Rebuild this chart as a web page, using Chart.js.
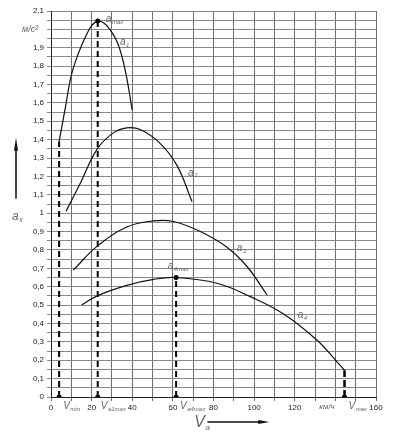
<!DOCTYPE html>
<html>
<head>
<meta charset="utf-8">
<script src="https://cdn.jsdelivr.net/npm/chart.js@4/dist/chart.umd.min.js"></script>
<style>
  html, body { margin: 0; padding: 0; background: #fff; }
  #wrap { width: 399px; height: 437px; }
</style>
</head>
<body>
<div id="wrap"><canvas id="chart" width="399" height="437"></canvas></div>
<script>
// speed, km/h and acceleration, m/s^2
const vI = [4, 7, 10, 13.5, 17, 20, 23, 26, 29, 33, 36.5, 40];
const aI = [1.39, 1.57, 1.75, 1.87, 1.96, 2.02, 2.045, 2.035, 2.0, 1.92, 1.78, 1.56];

const vII = [7.4, 14.3, 22.8, 30.7, 37.3, 43.9, 53.7, 62, 69.4];
const aII = [1.01, 1.16, 1.35, 1.437, 1.464, 1.455, 1.38, 1.26, 1.064];

const vIII = [11, 22.5, 37.3, 50.4, 60.3, 73.5, 86.6, 96.5, 106.4];
const aIII = [0.69, 0.818, 0.925, 0.958, 0.955, 0.90, 0.815, 0.71, 0.555];

const vIV = [15.1, 22.5, 37.3, 50.4, 61.6, 81.7, 98.1, 114.5, 131, 140.9, 144.5];
const aIV = [0.50, 0.549, 0.607, 0.64, 0.65, 0.619, 0.546, 0.452, 0.309, 0.19, 0.146];

// characteristic speeds (Vmin, Va1max, Va4max, Vmax) and heights of their dashed lines
const vMarks = [4, 23, 61.6, 144.5];
const aMarks = [1.39, 2.045, 0.65, 0.146];

const xTicks = [0, 20, 40, 60, 80, 100, 120, 160];

function pts(xs, ys) {
    return xs.map((x, i) => ({ x: x, y: ys[i] }));
}

function curve(xs, ys) {
    return {
        data: pts(xs, ys),
        borderColor: "#111",
        borderWidth: 1.2,
        pointRadius: 0,
        tension: 0.4,
        fill: false,
    };
}

var ds = [curve(vI, aI), curve(vII, aII), curve(vIII, aIII), curve(vIV, aIV)];

vMarks.forEach((v, i) => {
    ds.push({
        data: [{ x: v, y: 0 }, { x: v, y: aMarks[i] }],
        borderColor: "#000",
        borderWidth: i === 3 ? 2.5 : 2,
        borderDash: i === 3 ? [7, 3] : [6, 4],
        pointRadius: 0,
        tension: 0,
        fill: false,
    });
});

// dots on the axis and at the two marked maxima
ds.push({
    data: pts(vMarks, vMarks.map(() => 0)).concat([{ x: vMarks[1], y: aMarks[1] }, { x: vMarks[2], y: aMarks[2] }]),
    showLine: false,
    pointRadius: 2.5,
    pointBackgroundColor: "#000",
    pointBorderWidth: 0,
});

const hand = '"Liberation Sans Narrow", "Liberation Sans", sans-serif';
const ink = "#666";

function sub(ctx, main, s, x, y, size, ssize) {
    ctx.font = "italic " + size + "px " + hand;
    ctx.fillText(main, x, y);
    const w = ctx.measureText(main).width;
    ctx.font = "italic " + (ssize || Math.round(size * 0.6)) + "px " + hand;
    ctx.fillText(s, x + w + 0.5, y + size * 0.3);
}

const notes = {
    id: "notes",
    afterDraw(chart) {
        const ctx = chart.ctx;
        const xs = chart.scales.x;
        const ys = chart.scales.y;
        const a = chart.chartArea;
        const X = v => xs.getPixelForValue(v);
        const Y = v => ys.getPixelForValue(v);

        ctx.save();
        ctx.fillStyle = ink;
        ctx.textBaseline = "middle";
        ctx.textAlign = "left";

        sub(ctx, "a", "max", X(27), Y(2.055), 10, 6);
        sub(ctx, "a", "1", X(34), Y(1.93), 10, 6);
        sub(ctx, "a", "2", X(67.5), Y(1.22), 10, 6);
        sub(ctx, "a", "3", X(91.5), Y(0.81), 10, 6);
        sub(ctx, "a", "4", X(121.5), Y(0.445), 10, 6);
        sub(ctx, "a", "4max", X(57.5), Y(0.71), 10, 6);

        const ty = a.bottom + 9;
        sub(ctx, "V", "min", X(6), ty, 10, 6);
        sub(ctx, "V", "a1max", X(24.5), ty, 10, 6);
        sub(ctx, "V", "a4max", X(63.5), ty, 10, 6);
        sub(ctx, "V", "max", X(146.5), ty, 10, 6);
        ctx.font = "italic 8px " + hand;
        ctx.fillText("км/ч", X(132), ty + 1);

        // unit of the y axis sits where the 2.0 label would be
        ctx.font = "italic 9px " + hand;
        ctx.fillText("м/с²", a.left - 29, Y(2.0));

        // axis names with arrows
        sub(ctx, "a", "x", a.left - 39, Y(0.98), 12, 7);
        sub(ctx, "V", "a", X(70.5), a.bottom + 26, 16, 8);

        ctx.strokeStyle = "#111";
        ctx.fillStyle = "#111";
        ctx.lineWidth = 1.6;
        const ax = a.left - 35;
        ctx.beginPath();
        ctx.moveTo(ax, Y(1.08));
        ctx.lineTo(ax, Y(1.36));
        ctx.stroke();
        ctx.beginPath();
        ctx.moveTo(ax, Y(1.41));
        ctx.lineTo(ax - 2, Y(1.34));
        ctx.lineTo(ax + 2, Y(1.34));
        ctx.closePath();
        ctx.fill();

        const ay = a.bottom + 25;
        ctx.beginPath();
        ctx.moveTo(X(77), ay);
        ctx.lineTo(X(103), ay);
        ctx.stroke();
        ctx.beginPath();
        ctx.moveTo(X(107.5), ay);
        ctx.lineTo(X(102), ay - 2);
        ctx.lineTo(X(102), ay + 2);
        ctx.closePath();
        ctx.fill();

        ctx.restore();
    },
};

new Chart(document.getElementById("chart"), {
    type: "line",
    data: { datasets: ds },
    plugins: [notes],
    options: {
        responsive: false,
        animation: false,
        layout: { padding: { left: 0, right: 23, top: 11, bottom: 0 } },
        plugins: { legend: { display: false }, tooltip: { enabled: false } },
        scales: {
            x: {
                type: "linear",
                min: 0,
                max: 160,
                afterFit: s => { s.height = 40; },
                grid: { color: "#6e6e6e", lineWidth: 1, tickLength: 4 },
                border: { color: "#222", width: 1 },
                ticks: {
                    stepSize: 10,
                    maxTicksLimit: 30,
                    autoSkip: false,
                    maxRotation: 0,
                    padding: 2,
                    color: "#222",
                    font: { family: "Liberation Sans", size: 8 },
                    callback: v => (xTicks.includes(v) ? String(v) : ""),
                },
            },
            y: {
                min: 0,
                max: 2.1,
                afterFit: s => { s.width = 51; },
                grid: { color: "#888", lineWidth: 1, tickLength: 4 },
                border: { color: "#222", width: 1 },
                ticks: {
                    stepSize: 0.05,
                    maxTicksLimit: 100,
                    autoSkip: false,
                    padding: 3,
                    color: "#222",
                    font: { family: "Liberation Sans", size: 8 },
                    callback: v => {
                        const t = Math.round(v * 100);
                        if (t % 10 !== 0 || t === 200) return "";
                        if (t % 100 === 0) return String(t / 100);
                        return (t / 100).toFixed(1).replace(".", ",");
                    },
                },
            },
        },
    },
});
</script>
</body>
</html>
